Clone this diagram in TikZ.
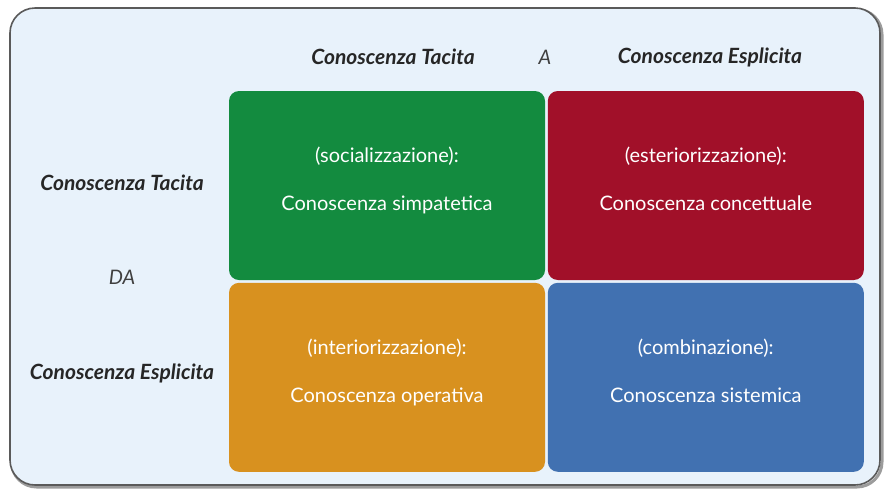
\documentclass[tikz,border=0pt]{standalone}
\usepackage{fontspec}
\setmainfont{Lato}
\usetikzlibrary{positioning}

\definecolor{sfondo}{HTML}{E8F2FB}
\definecolor{bordo}{HTML}{5A5A5A}
\definecolor{verdeS}{HTML}{138B3F}
\definecolor{rossoE}{HTML}{A11029}
\definecolor{aranI}{HTML}{D8911F}
\definecolor{bluC}{HTML}{4171B1}

\tikzset{
  cella/.style={rectangle, rounded corners=5pt, minimum width=158pt, minimum height=94.5pt,
    inner sep=0pt, align=center, text=white, text depth=7pt, font=\fontsize{10}{24}\selectfont},
  etich/.style={font=\fontsize{10.5}{12}\selectfont\bfseries\itshape, text=black!85},
  piccola/.style={font=\fontsize{10}{12}\selectfont\itshape, text=black!75}
}

\begin{document}
\begin{tikzpicture}[x=0.5pt, y=-0.5pt]
    \useasboundingbox (0,0) rectangle (888,488);
    % cornice
    \draw[bordo!60, line width=1.5pt, rounded corners=12.5pt] (11.5,9.5) rectangle (882,487);
    \draw[bordo, fill=sfondo, line width=0.8pt, rounded corners=12.5pt] (10,8) rectangle (880,485);

    % quadranti
    \node (soc) at (387,185.5) [cella, fill=verdeS] {(socializzazione):\\Conoscenza simpatetica};
    \node (est) [cella, fill=rossoE, right=1pt of soc] {(esteriorizzazione):\\Conoscenza concettuale};
    \node (int) [cella, fill=aranI, below=1pt of soc] {(interiorizzazione):\\Conoscenza operativa};
    \node (com) [cella, fill=bluC, below=1pt of est] {(combinazione):\\Conoscenza sistemica};

    % intestazioni
    \node (aTac) at (393,57) [etich] {Conoscenza Tacita};
    \node (aA) at (545,57) [piccola] {A};
    \node (aEsp) at (710,57) [etich] {Conoscenza Esplicita};
    \node (daTac) at (122,183) [etich] {Conoscenza Tacita};
    \node (daDA) at (122,277) [piccola] {DA};
    \node (daEsp) at (122,373) [etich] {Conoscenza Esplicita};
\end{tikzpicture}
\end{document}
